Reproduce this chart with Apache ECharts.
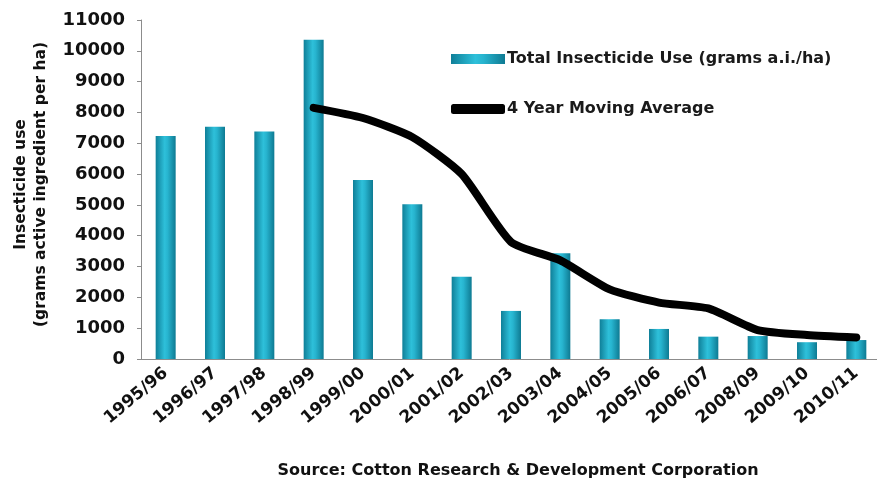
<!DOCTYPE html>
<html>
<head>
<meta charset="utf-8">
<script src="https://cdn.jsdelivr.net/npm/echarts@6/dist/echarts.min.js"></script>
<style>
  html, body { margin: 0; padding: 0; background: #fff; }
  #chart { width: 877px; height: 484px; }
</style>
</head>
<body>
<div id="chart"></div>
<script>
const seasons = ['1995/96', '1996/97', '1997/98', '1998/99', '1999/00', '2000/01', '2001/02', '2002/03',
  '2003/04', '2004/05', '2005/06', '2006/07', '2008/09', '2009/10', '2010/11']
// grams a.i. per ha
const totalUse = [7240, 7540, 7380, 10360, 5810, 5020, 2670, 1560, 3430, 1290, 975, 725, 745, 545, 615]
const movingAvg = [null, null, null, 8150, 7820, 7200, 6000, 3800, 3200, 2260, 1830, 1640, 940, 780, 700]
const yTicks = { min: 0, max: 11000, interval: 1000 }

const FONT = '"DejaVu Sans", "Liberation Sans", sans-serif'
const chart = echarts.init(document.getElementById('chart'), null, { renderer: 'canvas' })

const barColor = new echarts.graphic.LinearGradient(0, 0, 1, 0, [
  { offset: 0, color: '#0f7f98' },
  { offset: 0.45, color: '#2ec0da' },
  { offset: 0.6, color: '#27b4cf' },
  { offset: 1, color: '#0e7a92' }
])

const option = {
  backgroundColor: '#ffffff',
  animation: false,
  textStyle: { fontFamily: FONT },
  grid: { left: 141, top: 20, bottom: 125, width: 740, outerBoundsMode: 'none', containLabel: false },
  legend: {
    orient: 'vertical',
    left: 446,
    top: 46,
    itemGap: 34,
    itemWidth: 54,
    itemHeight: 10,
    textStyle: { fontFamily: FONT, fontWeight: 'bold', fontSize: 16, color: '#1a1a1a', padding: [0, 0, 0, -3] },
    data: [
      { name: 'Total Insecticide Use (grams a.i./ha)', icon: 'rect' },
      { name: '4 Year Moving Average', icon: 'roundRect', itemStyle: { color: '#000' } }
    ]
  },
  xAxis: {
    type: 'category',
    data: seasons,
    axisLine: { lineStyle: { color: '#8c8c8c', width: 1 } },
    axisTick: { length: 5, lineStyle: { color: '#8c8c8c' } },
    axisLabel: {
      rotate: 40,
      interval: 0,
      margin: 12,
      fontFamily: FONT,
      fontWeight: 'bold',
      fontSize: 17,
      color: '#111'
    },
    name: 'Source: Cotton Research & Development Corporation',
    nameLocation: 'middle',
    nameGap: 104,
    nameTextStyle: { fontFamily: FONT, fontWeight: 'bold', fontSize: 16, color: '#111', padding: [0, 0, 0, 14] }
  },
  yAxis: {
    type: 'value',
    min: yTicks.min,
    max: yTicks.max,
    interval: yTicks.interval,
    splitLine: { show: false },
    axisLine: { show: true, lineStyle: { color: '#8c8c8c', width: 1 } },
    axisTick: { show: true, length: 4, lineStyle: { color: '#8c8c8c' } },
    axisLabel: {
      margin: 16,
      formatter: v => String(v),
      fontFamily: FONT,
      fontWeight: 'bold',
      fontSize: 18,
      color: '#111'
    },
    name: 'Insecticide use\n(grams active ingredient per ha)',
    nameLocation: 'middle',
    nameRotate: 90,
    nameGap: 90,
    nameTextStyle: { fontFamily: FONT, fontWeight: 'bold', fontSize: 15.5, color: '#111', lineHeight: 20, padding: [0, 0, 0, 10] }
  },
  series: [
    {
      name: 'Total Insecticide Use (grams a.i./ha)',
      type: 'bar',
      data: totalUse,
      barWidth: 20,
      itemStyle: { color: barColor }
    },
    {
      name: '4 Year Moving Average',
      type: 'line',
      data: movingAvg,
      smooth: 0.2,
      symbol: 'none',
      lineStyle: { color: '#000', width: 8, cap: 'round', join: 'round' },
      itemStyle: { color: '#000' }
    }
  ]
}

chart.setOption(option)
</script>
</body>
</html>
